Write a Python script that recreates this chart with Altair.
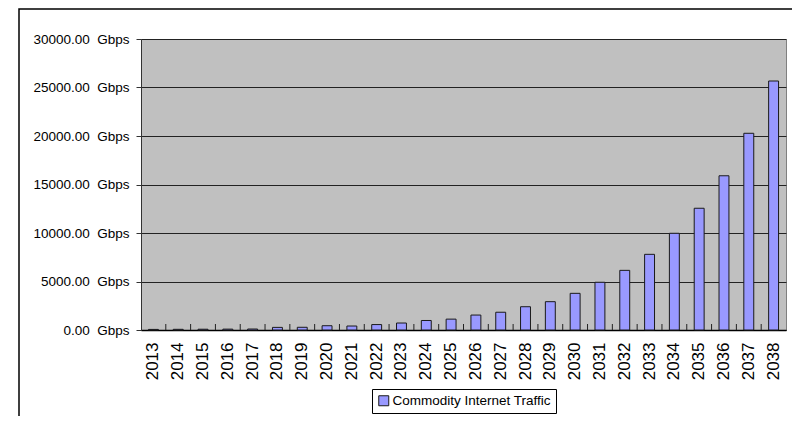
import altair as alt
import pandas as pd

# ---- data ----
years = ["2013", "2014", "2015", "2016", "2017", "2018", "2019", "2020", "2021",
         "2022", "2023", "2024", "2025", "2026", "2027", "2028", "2029", "2030",
         "2031", "2032", "2033", "2034", "2035", "2036", "2037", "2038"]
traffic_gbps = [60, 70, 80, 90, 100, 270, 280, 440, 410, 560, 720, 980, 1120,
                1540, 1830, 2400, 2920, 3780, 4920, 6150, 7800, 9970, 12550,
                15900, 20280, 25670]
series_name = "Commodity Internet Traffic"
y_ticks = [0, 5000, 10000, 15000, 20000, 25000, 30000]

df = pd.DataFrame({"year": years, "traffic": traffic_gbps, "series": series_name})

W, H = 645, 291
PAD_IN, PAD_OUT = 0.6, 0.3
STEP = W / (len(years) - PAD_IN + 2 * PAD_OUT)
FONT = "Liberation Sans, Arial, sans-serif"

x_scale = alt.Scale(paddingInner=PAD_IN, paddingOuter=PAD_OUT)
x_axis = alt.Axis(title=None, labelAngle=-90, labelFont=FONT, labelFontSize=17,
                  labelColor="#000", labelPadding=12, ticks=False,
                  domainColor="#000", domainWidth=1.5, grid=False)

y_axis = alt.Axis(title=None, values=y_ticks,
                  labelExpr="format(datum.value, '.2f') + '\u00a0\u00a0Gbps'",
                  labelFont=FONT, labelFontSize=13.5, labelColor="#000",
                  labelPadding=7, tickSize=5, tickColor="#333",
                  domainColor="#333", domainWidth=1,
                  grid=True, gridColor="#222", gridWidth=1)

bars = alt.Chart(df).mark_bar(stroke="#1a1a1a", strokeWidth=1).encode(
    x=alt.X("year:N", sort=years, scale=x_scale, axis=x_axis),
    y=alt.Y("traffic:Q", scale=alt.Scale(domain=[0, 30000], nice=False), axis=y_axis),
    color=alt.Color(
        "series:N",
        scale=alt.Scale(domain=[series_name], range=["#9999ff"]),
        legend=alt.Legend(title=None, orient="none", legendX=231, legendY=350,
                          symbolType="square", symbolSize=100,
                          symbolStrokeColor="#1a1a1a", symbolStrokeWidth=1,
                          labelFont=FONT, labelFontSize=13.5, labelColor="#000",
                          labelLimit=400, labelOffset=2, padding=5,
                          strokeColor="#000", fillColor="#fff"),
    ),
)

# small category-separator ticks pointing into the plot (Excel style)
ticks = alt.Chart(df).transform_filter(alt.datum.year != years[0]).mark_rule(
    color="#222", strokeWidth=1, xOffset=-PAD_OUT * STEP
).encode(
    x=alt.X("year:N", sort=years, scale=x_scale, axis=x_axis, bandPosition=0),
    y=alt.value(H),
    y2=alt.value(H - 6),
)

# outer chart frame
frame = alt.Chart(pd.DataFrame({"k": [0]})).mark_rect(
    fillOpacity=0, stroke="#000", strokeWidth=1.5, clip=False
).encode(
    x=alt.value(-122), x2=alt.value(W + 40),
    y=alt.value(-30), y2=alt.value(H + 140),
)

chart = alt.layer(frame, bars, ticks).properties(
    width=W, height=H,
    autosize=alt.AutoSizeParams(type="none"),
    padding={"left": 133, "top": 31, "right": 6, "bottom": 86},
    background="white",
).configure_view(fill="#c0c0c0", stroke="#808080", strokeWidth=1)

chart.save("out.html", embed_options={"renderer": "svg", "actions": False})
